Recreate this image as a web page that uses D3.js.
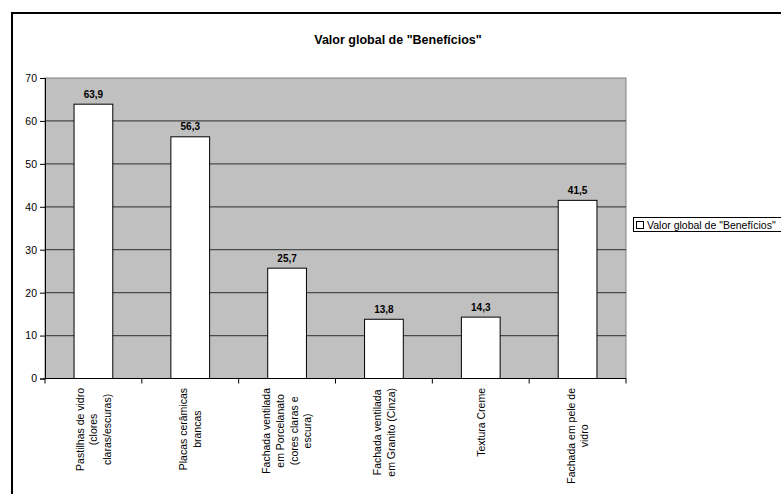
<!DOCTYPE html>
<html><head><meta charset="utf-8">
<script src="https://cdn.jsdelivr.net/npm/d3@7"></script>
<style>body{margin:0;background:#fff}svg{display:block}text{font-family:"Liberation Sans",Arial,sans-serif}</style>
</head><body>
<script>
const title = 'Valor global de "Benefícios"';
const seriesName = 'Valor global de "Benefícios"';
const categories = [
  ["Pastilhas de vidro","(clores","claras/escuras)"],
  ["Placas cerâmicas","brancas"],
  ["Fachada ventilada","em Porcelanato","(cores claras e","escura)"],
  ["Fachada ventilada","em Granito (Cinza)"],
  ["Textura Creme"],
  ["Fachada em pele de","vidro"]
];
const values = [63.9, 56.3, 25.7, 13.8, 14.3, 41.5];
const valueLabels = ["63,9","56,3","25,7","13,8","14,3","41,5"];
const yTicks = [0,10,20,30,40,50,60,70];

const W = 781, H = 494;
const svg = d3.select("body").append("svg").attr("width", W).attr("height", H);

// outer chart border
svg.append("rect").attr("x",12).attr("y",13).attr("width",800).attr("height",520)
  .attr("fill","#fff").attr("stroke","#000").attr("stroke-width",2);

const L = 45, R = 626, T = 78, B = 378.5;
const x = d3.scaleBand().domain(d3.range(categories.length)).range([L,R]).paddingInner(0.6).paddingOuter(0.3);
const xb = d3.scaleBand().domain(d3.range(categories.length)).range([L,R]);
const y = d3.scaleLinear().domain([0,70]).range([B,T]);

// plot area
svg.append("rect").attr("x",L).attr("y",T).attr("width",R-L).attr("height",B-T)
  .attr("fill","#c0c0c0").attr("stroke","#808080").attr("stroke-width",1);

// gridlines
svg.append("g").selectAll("line").data(yTicks.filter(d=>d>0 && d<70)).join("line")
  .attr("x1",L).attr("x2",R).attr("y1",d=>y(d)).attr("y2",d=>y(d))
  .attr("stroke","#4a4a4a").attr("stroke-width",1.2);

// bars
svg.append("g").selectAll("rect").data(values).join("rect")
  .attr("x",(d,i)=>x(i)).attr("width",x.bandwidth())
  .attr("y",d=>y(d)).attr("height",d=>B-y(d))
  .attr("fill","#fff").attr("stroke","#000").attr("stroke-width",1);

// value labels
svg.append("g").selectAll("text").data(values).join("text")
  .attr("x",(d,i)=>x(i)+x.bandwidth()/2).attr("y",d=>y(d)-6.5)
  .attr("text-anchor","middle").attr("font-size","10px").attr("font-weight","bold")
  .text((d,i)=>valueLabels[i]);

// y axis
const yAxis = d3.axisLeft(y).tickValues(yTicks).tickSize(5).tickPadding(3).tickFormat(d3.format("d"));
const gy = svg.append("g").attr("transform",`translate(${L},0)`).call(yAxis);
gy.select(".domain").attr("stroke","#000");
gy.selectAll("line").attr("stroke","#000");
gy.selectAll("text").attr("font-size","10.5px").attr("fill","#000").attr("font-family","Liberation Sans, Arial, sans-serif");

// x axis
svg.append("line").attr("x1",L).attr("x2",R).attr("y1",B).attr("y2",B).attr("stroke","#000");
svg.append("g").selectAll("line").data(d3.range(categories.length+1)).join("line")
  .attr("x1",i=>L+i*xb.bandwidth()).attr("x2",i=>L+i*xb.bandwidth())
  .attr("y1",B).attr("y2",B+5).attr("stroke","#000");

// x labels (rotated)
const lineH = 13.7;
categories.forEach((lines,i)=>{
  const cx = xb(i)+xb.bandwidth()/2;
  const g = svg.append("g");
  const texts = g.selectAll("text").data(lines).join("text")
    .attr("font-size","10.5px").attr("text-anchor","middle").text(d=>d);
  let maxLen = 0;
  texts.each(function(){ maxLen = Math.max(maxLen, this.getComputedTextLength()); });
  const cy = 388 + maxLen/2;
  const n = lines.length;
  texts.attr("transform",(d,j)=>{
    const lx = cx + (j-(n-1)/2)*lineH + 3.8;
    return `translate(${lx},${cy}) rotate(-90)`;
  });
});

// title
svg.append("text").attr("x",398).attr("y",44).attr("text-anchor","middle")
  .attr("font-size","12.5px").attr("font-weight","bold").text(title);

// legend
svg.append("rect").attr("x",633.5).attr("y",217.5).attr("width",160).attr("height",14)
  .attr("fill","#fff").attr("stroke","#000");
svg.append("rect").attr("x",636.5).attr("y",221.5).attr("width",7).attr("height",7)
  .attr("fill","#fff").attr("stroke","#000");
svg.append("text").attr("x",647).attr("y",228.5).attr("font-size","10.5px").text(seriesName);
</script>
</body></html>
